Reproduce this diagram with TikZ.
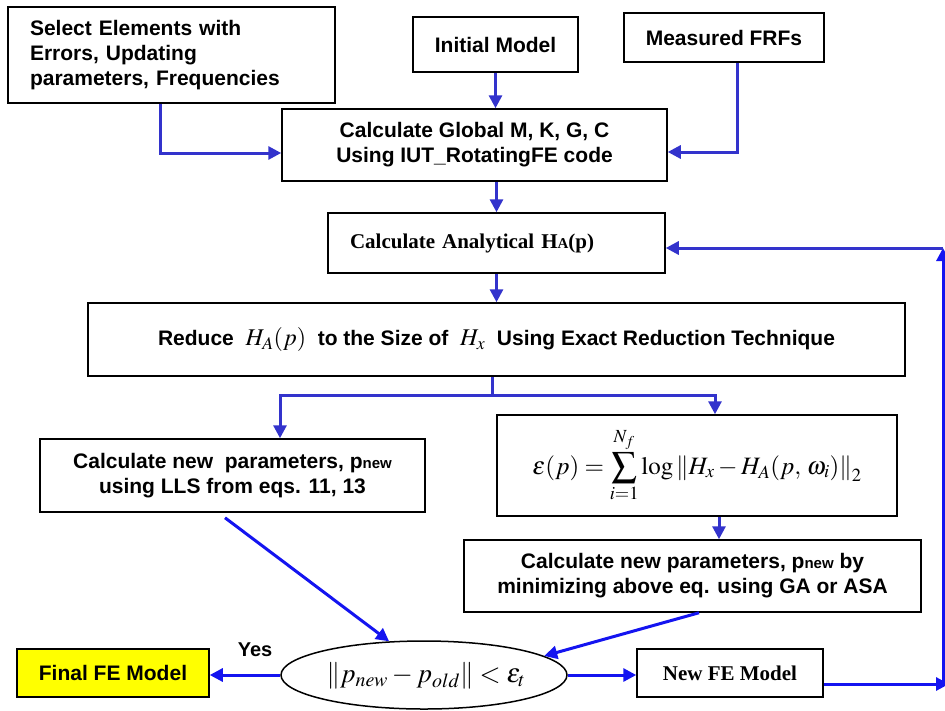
\documentclass[tikz,border=0pt]{standalone}
\usepackage{amsmath}
\usepackage{mathptmx}
\usepackage[no-math]{fontspec}
\setmainfont{Liberation Sans}
\newfontfamily\tms{Liberation Serif}
\usetikzlibrary{arrows.meta,shapes.geometric}
\definecolor{lineA}{RGB}{51,51,204}
\definecolor{lineB}{RGB}{20,20,240}
\definecolor{finyel}{RGB}{255,255,0}
\tikzset{
  box/.style={draw=black, line width=1.5pt, inner sep=0pt, align=center,
    font=\fontsize{21}{25}\selectfont\bfseries},
  con/.style={draw=lineA, line width=3pt, -{Triangle[length=13pt,width=13pt]}},
  conB/.style={con, draw=lineB},
  plain/.style={draw=lineA, line width=3pt},
}
\begin{document}
\begin{tikzpicture}[x=1pt,y=-1pt]
\useasboundingbox (0,0) rectangle (945,710);
% boxes
\node[box, minimum width=327pt, minimum height=96pt, text width=283pt, align=left] (sel) at (171.5,55)
  {Select Elements with\\Errors, Updating\\parameters, Frequencies};
\node[box, minimum width=165pt, minimum height=55pt] (init) at (495.5,44.5) {Initial Model};
\node[box, minimum width=200pt, minimum height=49pt] (meas) at (724,37.5) {Measured FRFs};
\node[box, minimum width=385pt, minimum height=72pt] (glob) at (474.5,145)
  {Calculate Global M, K, G, C\\Using IUT\_RotatingFE code};
\node[box, minimum width=337pt, minimum height=60pt, text width=293pt, align=left,
  font=\fontsize{21}{25}\selectfont\tms\bfseries] (ana) at (496.5,243)
  {Calculate Analytical H{\fontsize{15}{18}\selectfont A}(p)};
\node[box, minimum width=817pt, minimum height=73pt] (red) at (496.5,339.5)
  {Reduce \ {\fontsize{24}{28}\selectfont$H_A(p)$} \ to the Size of \ {\fontsize{24}{28}\selectfont$H_x$} \ Using Exact Reduction Technique};
\node[box, minimum width=400pt, minimum height=101pt, font=\fontsize{25}{30}\selectfont] (err) at (697,465.5)
  {$\displaystyle \varepsilon(p)=\sum_{i=1}^{N_f}\log\left\|H_x-H_A(p,\,\omega_i)\right\|_2$};
\node[box, minimum width=385pt, minimum height=73pt] (lls) at (232.5,475.5)
  {Calculate new\ \ parameters, p{\fontsize{15}{18}\selectfont new}\\using LLS from eqs. 11, 13};
\node[box, minimum width=457pt, minimum height=72pt] (ga) at (692.5,576)
  {Calculate new parameters, p{\fontsize{15}{18}\selectfont new} by\\minimizing above eq. using GA or ASA};
\node[box, fill=finyel, minimum width=192pt, minimum height=48pt] (fin) at (113,673) {Final FE Model};
\node[box, ellipse, minimum width=286pt, minimum height=68pt] (ell) at (424,675) {};
\node[inner sep=0pt, font=\fontsize{27}{32}\selectfont] (elltext) at (426,676)
  {$\left\|p_{new}-p_{old}\right\|<\varepsilon_t$};
\node[box, minimum width=186pt, minimum height=48pt, font=\fontsize{21}{25}\selectfont\tms\bfseries] (nfe) at (730,673) {New FE Model};
\node[font=\fontsize{20}{24}\selectfont\bfseries, inner sep=0pt] (yes) at (255,650) {Yes};
% connectors
\draw[con] ([xshift=-11.5pt]sel.south) |- ([yshift=-8pt]glob.west);
\draw[con] (init.south) -- (init.south |- glob.north);
\draw[con] ([xshift=13pt]meas.south) |- ([yshift=-7pt]glob.east);
\draw[con] (ana.north |- glob.south) -- (ana.north);
\draw[con] (ana.south) -- (ana.south |- red.north);
\coordinate (split) at (492,395);
\draw[plain] ([xshift=-4.5pt]red.south) -- (split);
\draw[con] (split) -| ([xshift=47.5pt]lls.north);
\draw[con] (split) -| ([xshift=18pt]err.north);
\draw[con] ([xshift=22pt]err.south) -- ([xshift=22pt]err.south |- ga.north);
\draw[conB] ([xshift=-7.5pt,yshift=-5pt]lls.south) -- (ell.136);
\draw[conB] ([xshift=6.5pt]ga.south) -- (ell.9);
\draw[conB] (ell.west) -- (fin.east |- ell.west);
\draw[conB] (ell.east) -- (nfe.west |- ell.east);
\coordinate (rb) at (949,684);
\coordinate (vb) at (943,684);
\coordinate (vt) at (943,248);
\draw[conB] ([yshift=-11pt]nfe.east) -- (rb);
\draw[conB] (vb) -- (vt);
\draw[con] (vt) -- ([yshift=-5pt]ana.east);
\end{tikzpicture}
\end{document}
